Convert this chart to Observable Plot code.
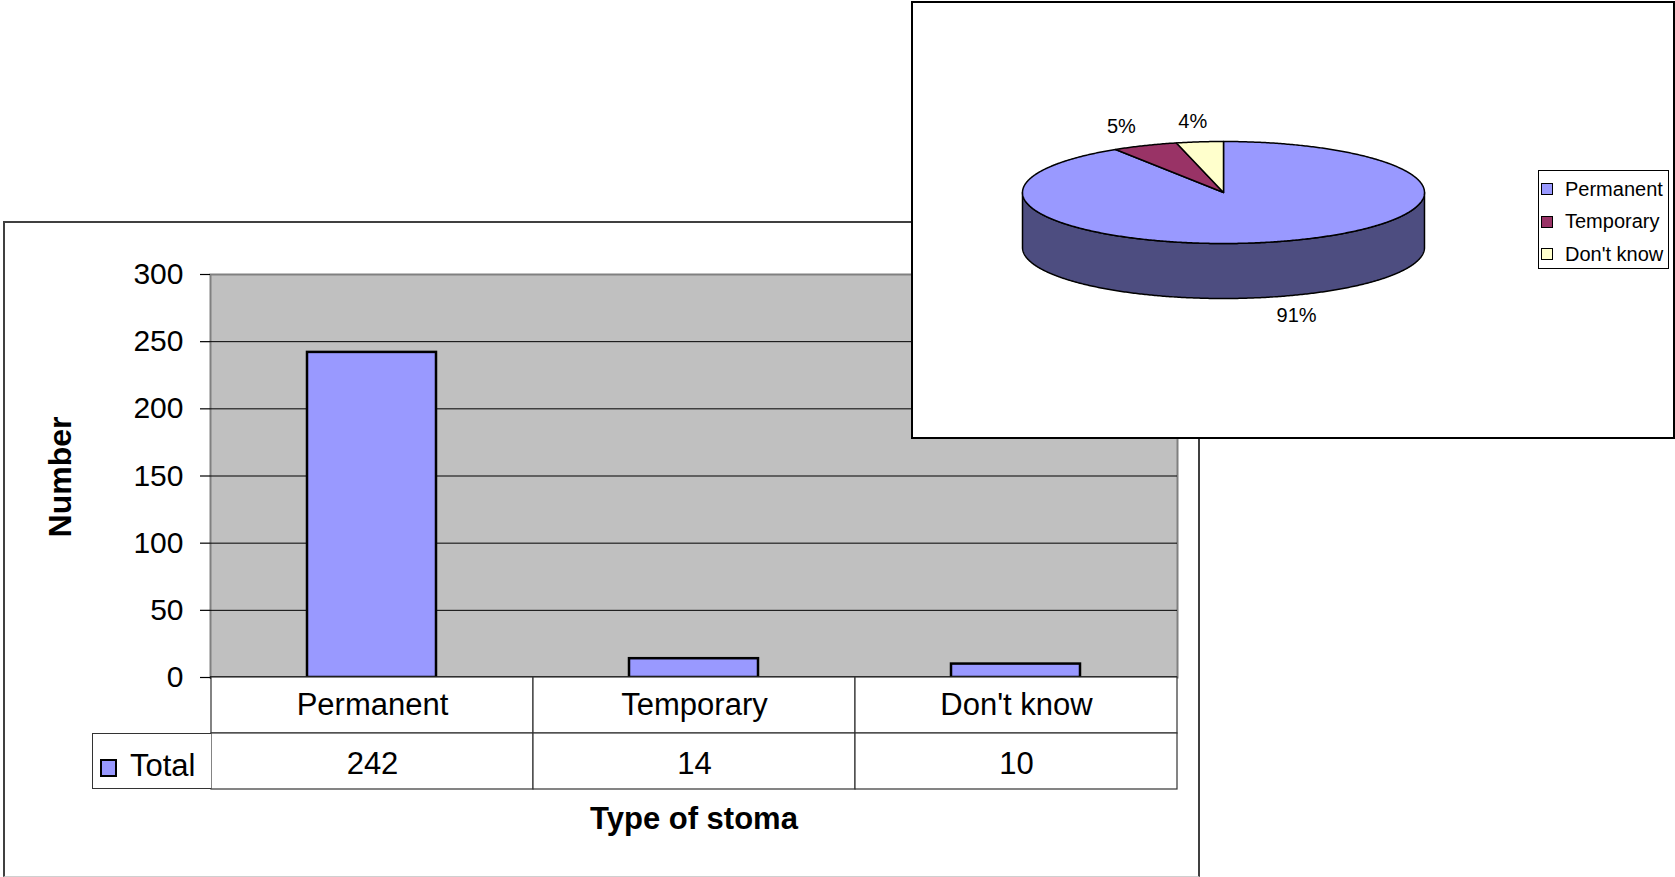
<!DOCTYPE html>
<html><head><meta charset="utf-8">
<script src="https://cdn.jsdelivr.net/npm/d3@7"></script>
<script src="https://cdn.jsdelivr.net/npm/@observablehq/plot@0.6"></script>
<style>
html,body{margin:0;padding:0;background:#fff;}
#page{position:relative;width:1675px;height:877px;overflow:hidden;font-family:"Liberation Sans",Arial,sans-serif;color:#000;}
.abs{position:absolute;}
#barFrame{left:3px;top:221px;width:1197px;height:656px;border:2px solid #404040;border-bottom:1px solid #cfcfcf;box-sizing:border-box;background:#fff;}
#totalCell{left:92px;top:733px;width:119px;height:56px;border:1px solid #333;border-right:none;box-sizing:border-box;background:#fff;}
#totalCell .sw{position:absolute;left:7px;top:25px;width:17px;height:18px;box-sizing:border-box;border:2px solid #000;}
#totalCell .tx{position:absolute;left:37px;top:16px;font-size:31px;line-height:31px;}
#xlab{left:494px;top:803px;width:400px;text-align:center;font-size:31px;line-height:31px;font-weight:bold;}
#ylab{left:-40px;top:461px;width:200px;height:32px;text-align:center;font-size:32px;line-height:32px;font-weight:bold;transform:rotate(-90deg);}
#pieFrame{left:911px;top:1px;width:764px;height:438px;border:2px solid #000;box-sizing:border-box;background:#fff;}
#pieFrame svg{position:absolute;left:0;top:0;}
#legend{left:1538px;top:170px;width:131px;height:99px;border:1px solid #000;box-sizing:border-box;background:#fff;font-family:"Liberation Sans",Arial,sans-serif;font-size:20px;}
#legend .row{position:absolute;left:2px;height:32px;display:flex;align-items:center;white-space:nowrap;}
#legend .sq{width:12px;height:12px;box-sizing:border-box;border:1px solid #000;margin-right:12px;}
</style></head>
<body><div id="page"></div>
<script>
// ---- data ----
const categories = ["Permanent", "Temporary", "Don't know"];
const totals = [242, 14, 10];
const yTicks = [0, 50, 100, 150, 200, 250, 300];
const tableRows = ["category", "Total"];
const seriesName = "Total";
const xTitle = "Type of stoma";
const yTitle = "Number";
const colors = ["#9999ff", "#993366", "#ffffcc"];

const page = document.getElementById("page");
function el(id, cls, html){ const d=document.createElement("div"); if(id) d.id=id; d.className=cls||"abs"; if(html!=null) d.innerHTML=html; page.appendChild(d); return d; }

// ---- bar chart ----
el("barFrame");
const barData = categories.map((c,i)=>({cat:c, value:totals[i]}));
const bar = Plot.plot({
  width:1200, height:458, marginTop:53, marginBottom:2, marginLeft:210, marginRight:23,
  style:{fontFamily:"'Liberation Sans', Arial, sans-serif", color:"#000", background:"transparent", overflow:"visible"},
  x:{type:"band", domain:categories, paddingInner:0.6, paddingOuter:0.3, axis:null},
  y:{domain:[0,300], axis:null},
  marks:[
    Plot.frame({fill:"#c0c0c0", stroke:"#808080", strokeWidth:2}),
    Plot.gridY(yTicks.filter(t=>t>0 && t<300), {stroke:"#000", strokeOpacity:1, strokeWidth:1}),
    Plot.barY(barData, {x:"cat", y:"value", fill:colors[0], stroke:"#000", strokeWidth:2.5}),
    Plot.ruleY([0], {stroke:"#000", strokeWidth:2.5}),
    Plot.axisY(yTicks, {tickSize:10, tickPadding:17, fontSize:30, label:null, stroke:"#000", strokeWidth:1.2})
  ]
});
bar.classList.add("abs"); bar.style.left="0px"; bar.style.top="221px";
page.appendChild(bar);

// ---- data table ----
const cells = categories.flatMap((c,i)=>[
  {cat:c, row:tableRows[0], text:c},
  {cat:c, row:tableRows[1], text:String(totals[i])}
]);
const table = Plot.plot({
  width:1200, height:114, marginTop:1, marginBottom:1, marginLeft:210, marginRight:23,
  style:{fontFamily:"'Liberation Sans', Arial, sans-serif", color:"#000", background:"transparent"},
  x:{type:"band", domain:categories, padding:0, axis:null},
  y:{type:"band", domain:tableRows, padding:0, axis:null},
  marks:[
    Plot.cell(cells, {x:"cat", y:"row", fill:"#fff", stroke:"#333", strokeWidth:1.2, inset:0}),
    Plot.text(cells.filter(d=>d.row===tableRows[0]), {x:"cat", y:"row", text:"text", fontSize:31, fill:"#000"}),
    Plot.text(cells.filter(d=>d.row===tableRows[1]), {x:"cat", y:"row", text:"text", fontSize:31, fill:"#000", dy:3})
  ]
});
table.classList.add("abs"); table.style.left="0px"; table.style.top="676px";
page.appendChild(table);
const tc = el("totalCell");
tc.innerHTML = `<div class="sw" style="background:${colors[0]}"></div><div class="tx">${seriesName}</div>`;
el("xlab", "abs", xTitle);
el("ylab", "abs", yTitle);

// ---- 3D pie ----
const pf = el("pieFrame");
const sum = d3.sum(totals);
const fmt = d3.format(".0%");
const arcs = d3.pie().sort(null).value(d=>d)(totals);
const DEPTH = 55/51;
function angles(a0,a1){ const n=Math.max(2, Math.ceil((a1-a0)/(Math.PI/360))); return d3.range(n+1).map(k=>a0+(a1-a0)*k/n); }
function half(c){ const r=d3.rgb(c); return d3.rgb(r.r*0.5, r.g*0.5, r.b*0.5).formatHex(); }
const sides = [], tops = [];
arcs.forEach((a,i)=>{
  const s0 = Math.max(a.startAngle, Math.PI/2), s1 = Math.min(a.endAngle, 3*Math.PI/2);
  if (s1 > s0) {
    const t = angles(s0, s1);
    const pts = [
      ...t.map(u=>({x:Math.sin(u), y:Math.cos(u)})),
      ...t.slice().reverse().map(u=>({x:Math.sin(u), y:Math.cos(u)-DEPTH}))
    ];
    pts.push(pts[0]);
    sides.push({pts, color:half(colors[i])});
  }
  const t = angles(a.startAngle, a.endAngle);
  tops.push({pts:[{x:0,y:0}, ...t.map(u=>({x:Math.sin(u), y:Math.cos(u)})), {x:0,y:0}], color:colors[i]});
});
const labels = arcs.map((a,i)=>{
  const m = (a.startAngle+a.endAngle)/2, c = Math.cos(m);
  return {x:1.3*Math.sin(m), y:1.4*c - (c<0 ? DEPTH : 0), text:fmt(totals[i]/sum)};
});
const pie = Plot.plot({
  width:760, height:434, margin:0,
  style:{fontFamily:"'Liberation Sans', Arial, sans-serif", color:"#000", background:"transparent"},
  x:{domain:[-1,1], range:[310-201, 310+201], axis:null},
  y:{domain:[-1,1], range:[189+51, 189-51], axis:null},
  marks:[
    ...sides.map(s=>Plot.line(s.pts, {x:"x", y:"y", fill:s.color, stroke:"#000", strokeWidth:1.5})),
    ...tops.map(s=>Plot.line(s.pts, {x:"x", y:"y", fill:s.color, stroke:"#000", strokeWidth:1.5})),
    Plot.text(labels, {x:"x", y:"y", text:"text", fontSize:20, fill:"#000"})
  ]
});
pf.appendChild(pie);

// ---- pie legend ----
const lg = el("legend");
categories.forEach((c,i)=>{
  const r = document.createElement("div");
  r.className = "row"; r.style.top = (2 + i*32.5) + "px";
  r.innerHTML = `<div class="sq" style="background:${colors[i]}"></div><span>${c}</span>`;
  lg.appendChild(r);
});
</script>
</body></html>
